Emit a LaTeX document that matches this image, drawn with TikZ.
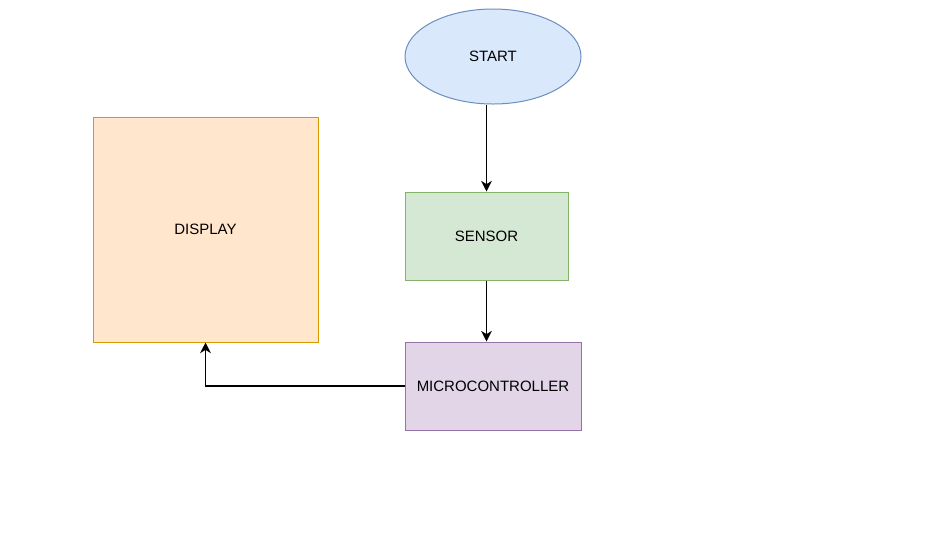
\documentclass[tikz,border=0pt]{standalone}
\usepackage{fontspec}
\setmainfont{Liberation Sans}
\usetikzlibrary{shapes.geometric, arrows.meta}
\definecolor{startfill}{HTML}{DAE8FC}
\definecolor{startline}{HTML}{6C8EBF}
\definecolor{sensorfill}{HTML}{D5E8D4}
\definecolor{sensorline}{HTML}{82B366}
\definecolor{microfill}{HTML}{E1D5E7}
\definecolor{microline}{HTML}{9673A6}
\definecolor{displayfill}{HTML}{FFE6CC}
\definecolor{displayline}{HTML}{D79B00}
\tikzset{
    block/.style={rectangle, inner sep=0pt, line width=0.75pt, font=\fontsize{11.25}{13}\selectfont},
    flow/.style={line width=0.9pt, -{Stealth[length=8pt, width=8pt, inset=2.5pt]}}
}

\begin{document}
\begin{tikzpicture}[x=0.75pt, y=-0.75pt]
        \useasboundingbox (0,0) rectangle (934,558);
        \node[block, ellipse, draw=startline, fill=startfill, minimum width=132pt, minimum height=71.25pt] (start) at (493,56.5) {START};
        \node[block, draw=sensorline, fill=sensorfill, minimum width=122.25pt, minimum height=66pt] (sensor) at (486.5,236) {SENSOR};
        \node[block, draw=microline, fill=microfill, minimum width=132pt, minimum height=66pt] (micro) at (493,386) {MICROCONTROLLER};
        \node[block, draw=displayline, fill=displayfill, minimum width=168.75pt, minimum height=168.75pt] (display) at (205.5,229.5) {DISPLAY};
        \draw[flow] (sensor.north |- start.south) -- (sensor.north);
        \draw[flow] (sensor.south) -- (sensor.south |- micro.north);
        \draw[flow] (micro.west) -| (display.south);
    \end{tikzpicture}
\end{document}
